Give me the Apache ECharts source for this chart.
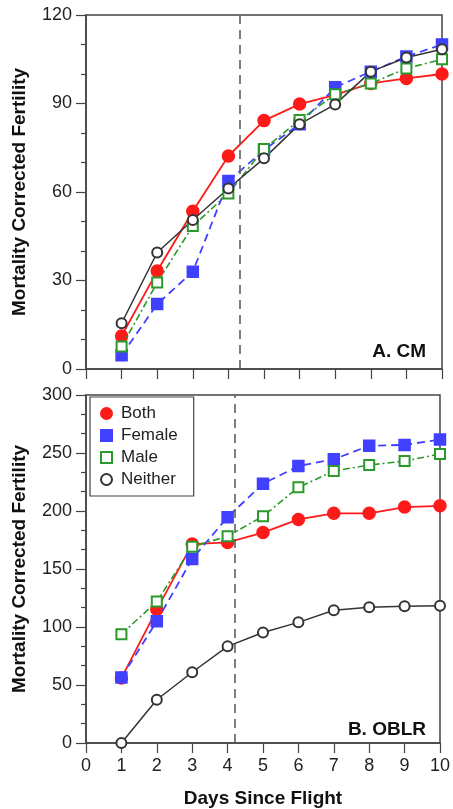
<!DOCTYPE html>
<html>
<head>
<meta charset="utf-8">
<script src="https://cdn.jsdelivr.net/npm/echarts@6/dist/echarts.min.js"></script>
<style>
  html, body { margin: 0; padding: 0; background: #fff; }
  #chart { width: 453px; height: 809px; }
</style>
</head>
<body>
<div id="chart"></div>
<script>
const days = [1, 2, 3, 4, 5, 6, 7, 8, 9, 10];

// panel A. CM
const cmBoth = [11.2, 33.2, 53.5, 72.2, 84.2, 89.8, 92.9, 96.8, 98.5, 100];
const cmFemale = [4.7, 22, 33, 63.7, 74.2, 83, 95.5, 100.8, 105.9, 110];
const cmMale = [7.6, 29.3, 48.5, 59.5, 74.6, 84.4, 93.1, 96.8, 101.9, 105];
const cmNeither = [15.5, 39.5, 50.5, 61.2, 71.4, 83, 89.7, 100.8, 105.6, 108.4];
const cmFlight = 4.33;

// panel B. OBLR
const oblrBoth = [56, 115, 171.5, 172.9, 181.4, 192.7, 198, 198, 203.4, 204.5];
const oblrFemale = [56.5, 105, 158.7, 194.7, 223.5, 238.7, 244.6, 256.2, 257, 261.6];
const oblrMale = [93.8, 122, 169.2, 178.2, 195.5, 220.4, 234.5, 239.6, 243, 249.2];
const oblrNeither = [0, 37.3, 61, 83.3, 95.2, 104, 114.4, 117, 117.8, 118.4];
const oblrFlight = 4.2;

const font = "'Liberation Sans', Arial, sans-serif";
const axisColor = "#444";

function pairs(vals) {
  return vals.map((v, i) => [days[i], v]);
}

const styles = {
  Both: { color: "#ff1a1a", symbol: "circle", size: 12, type: "solid", width: 1.8 },
  Female: { color: "#4040ff", symbol: "rect", size: 11, type: [8, 5], width: 1.8 },
  Male: { color: "#2a9a2a", symbol: "emptyRect", size: 10, type: [7, 3, 2, 3], width: 1.6 },
  Neither: { color: "#333333", symbol: "emptyCircle", size: 10, type: "solid", width: 1.5 },
};

function makeSeries(name, vals, idx, flight) {
  let s = styles[name];
  let ser = {
    name: name,
    type: "line",
    xAxisIndex: idx,
    yAxisIndex: idx,
    data: pairs(vals),
    symbol: s.symbol,
    symbolSize: s.size,
    showAllSymbol: true,
    itemStyle: { color: s.color, borderColor: s.color, borderWidth: 1.5 },
    lineStyle: { color: s.color, type: s.type, width: s.width },
    emphasis: { disabled: true },
    z: name == "Both" ? 3 : 4,
  };
  if (flight != null) {
    // flight day marker
    ser.markLine = {
      silent: true,
      symbol: "none",
      label: { show: false },
      lineStyle: { color: "#555", type: [9, 6], width: 1.5 },
      data: [{ xAxis: flight }],
    };
  }
  return ser;
}

function xAxis(idx, showLabels) {
  return {
    type: "value",
    gridIndex: idx,
    min: 0,
    max: 10,
    interval: 1,
    axisLine: { lineStyle: { color: axisColor, width: 1.5 } },
    axisTick: { show: true, inside: false, length: 10, lineStyle: { color: axisColor, width: 1.2 } },
    axisLabel: { show: showLabels, fontSize: 18, fontFamily: font, color: "#222", margin: 14 },
    splitLine: { show: false },
    name: showLabels ? "Days Since Flight" : "",
    nameLocation: "middle",
    nameGap: 46,
    nameTextStyle: { fontSize: 19, fontWeight: "bold", fontFamily: font, color: "#111" },
  };
}

function yAxis(idx, max, interval) {
  return {
    type: "value",
    gridIndex: idx,
    min: 0,
    max: max,
    interval: interval,
    axisLine: { show: true, lineStyle: { color: axisColor, width: 1.5 } },
    axisTick: { show: true, length: 10, lineStyle: { color: axisColor, width: 1.2 } },
    minorTick: { show: true, splitNumber: 3, length: 5, lineStyle: { color: axisColor, width: 1.2 } },
    axisLabel: { fontSize: 18, fontFamily: font, color: "#222", margin: 14 },
    splitLine: { show: false },
    name: "Mortality Corrected Fertility",
    nameLocation: "middle",
    nameGap: 57,
    nameTextStyle: { fontSize: 19, fontWeight: "bold", fontFamily: font, color: "#111" },
  };
}

let chart = echarts.init(document.getElementById("chart"), null, { renderer: "canvas" });

let option = {
  animation: false,
  backgroundColor: "#fff",
  grid: [
    { left: 86, right: 11, top: 15, height: 354, show: true, borderColor: axisColor, borderWidth: 1.5 },
    { left: 86, right: 11, top: 395, height: 354, show: true, borderColor: axisColor, borderWidth: 1.5 },
  ],
  xAxis: [xAxis(0, false), xAxis(1, true)],
  yAxis: [yAxis(0, 120, 30), yAxis(1, 300, 50)],
  legend: {
    orient: "vertical",
    left: 90,
    top: 397,
    padding: [8, 16, 8, 10],
    itemGap: 5,
    itemWidth: 11,
    itemHeight: 11,
    borderColor: "#444",
    borderWidth: 1.2,
    backgroundColor: "#fff",
    textStyle: { fontSize: 17, fontFamily: font, color: "#222", padding: [0, 0, 0, 4] },
    data: [
      { name: "Both", icon: "circle" },
      { name: "Female", icon: "rect" },
      { name: "Male", icon: "emptyRect" },
      { name: "Neither", icon: "emptyCircle" },
    ],
  },
  graphic: [
    {
      type: "text",
      x: 426,
      y: 352,
      style: { text: "A. CM", font: "bold 19px " + font, fill: "#111", textAlign: "right", textVerticalAlign: "middle" },
    },
    {
      type: "text",
      x: 426,
      y: 730,
      style: { text: "B. OBLR", font: "bold 19px " + font, fill: "#111", textAlign: "right", textVerticalAlign: "middle" },
    },
  ],
  series: [
    makeSeries("Both", cmBoth, 0, cmFlight),
    makeSeries("Female", cmFemale, 0),
    makeSeries("Male", cmMale, 0),
    makeSeries("Neither", cmNeither, 0),
    makeSeries("Both", oblrBoth, 1, oblrFlight),
    makeSeries("Female", oblrFemale, 1),
    makeSeries("Male", oblrMale, 1),
    makeSeries("Neither", oblrNeither, 1),
  ],
};

chart.setOption(option);
</script>
</body>
</html>
